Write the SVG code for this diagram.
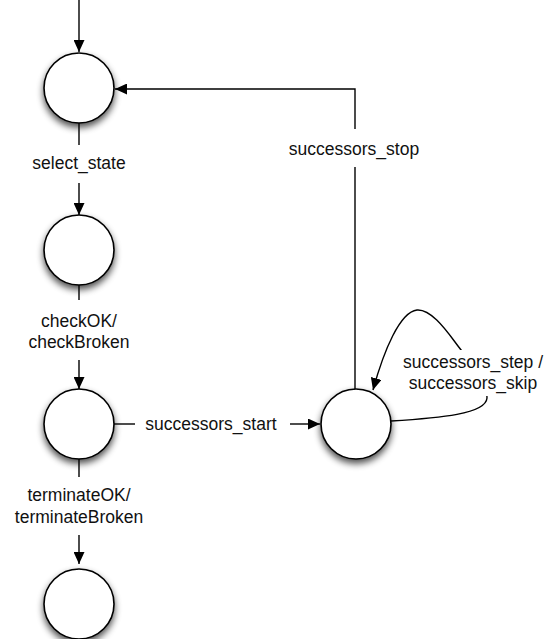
<svg xmlns="http://www.w3.org/2000/svg" width="547" height="639" viewBox="0 0 547 639">
  <defs>
    <filter id="shadow" x="-40%" y="-40%" width="180%" height="180%">
      <feGaussianBlur in="SourceAlpha" stdDeviation="3.5"/>
      <feOffset dx="0" dy="4" result="blur"/>
      <feComponentTransfer><feFuncA type="linear" slope="0.7"/></feComponentTransfer>
      <feMerge><feMergeNode/><feMergeNode in="SourceGraphic"/></feMerge>
    </filter>
    <marker id="arrow" viewBox="0 0 12 11" refX="12" refY="5.5" markerWidth="12" markerHeight="11" markerUnits="userSpaceOnUse" orient="auto">
      <path d="M0,0 L12,5.5 L0,11 z" fill="#000"/>
    </marker>
  </defs>
  <style>
    .state { fill: #fff; stroke: #000; stroke-width: 1.6; filter: url(#shadow); }
    .edge { fill: none; stroke: #000; stroke-width: 1.4; }
    .arr { marker-end: url(#arrow); }
    .label { font-family: "Liberation Sans", Arial, Helvetica, sans-serif; font-size: 17.5px; fill: #111; text-anchor: middle; }
  </style>
  <rect width="547" height="639" fill="#fff"/>

  <g id="connectors">
    <!-- entry arrow -->
    <line class="edge arr" x1="79" y1="0" x2="79" y2="52"/>
    <!-- select_state -->
    <line class="edge" x1="79" y1="122" x2="79" y2="145"/>
    <line class="edge arr" x1="79" y1="183" x2="79" y2="215"/>
    <!-- checkOK / checkBroken -->
    <line class="edge" x1="79" y1="285" x2="79" y2="300"/>
    <line class="edge arr" x1="79" y1="360" x2="79" y2="389"/>
    <!-- terminateOK / terminateBroken -->
    <line class="edge" x1="79" y1="459" x2="79" y2="477"/>
    <line class="edge arr" x1="79" y1="535" x2="79" y2="564"/>
    <!-- successors_start -->
    <line class="edge" x1="114" y1="424" x2="135" y2="424"/>
    <line class="edge arr" x1="290" y1="424" x2="320" y2="424"/>
    <!-- successors_stop -->
    <polyline class="edge" points="355,389 355,167"/>
    <polyline class="edge arr" points="355,129 355,89 115,89"/>
    <!-- successors_step / successors_skip self loop -->
    <path class="edge arr" d="M391,421 C440,418 486,414 487,398 C488,380 468,360 455,342 C444,327 430,309 417,310 C400,312 384,350 373,390"/>
  </g>

  <g id="label-bg">
    <rect x="400" y="350" width="146" height="46" fill="#fff"/>
  </g>

  <g id="state-1"><circle class="state" cx="79" cy="88" r="35"/></g>
  <g id="state-2"><circle class="state" cx="79" cy="250" r="35"/></g>
  <g id="state-3"><circle class="state" cx="79" cy="424" r="35"/></g>
  <g id="state-4"><circle class="state" cx="79" cy="604" r="35"/></g>
  <g id="state-5"><circle class="state" cx="356" cy="424" r="35"/></g>

  <g id="labels">
    <text class="label" x="79" y="169">select_state</text>
    <text class="label" x="79" y="327">checkOK/</text>
    <text class="label" x="79" y="348">checkBroken</text>
    <text class="label" x="79" y="501">terminateOK/</text>
    <text class="label" x="79" y="523">terminateBroken</text>
    <text class="label" x="211" y="430">successors_start</text>
    <text class="label" x="354" y="155">successors_stop</text>
    <text class="label" x="473" y="368">successors_step /</text>
    <text class="label" x="473" y="389">successors_skip</text>
  </g>
</svg>
